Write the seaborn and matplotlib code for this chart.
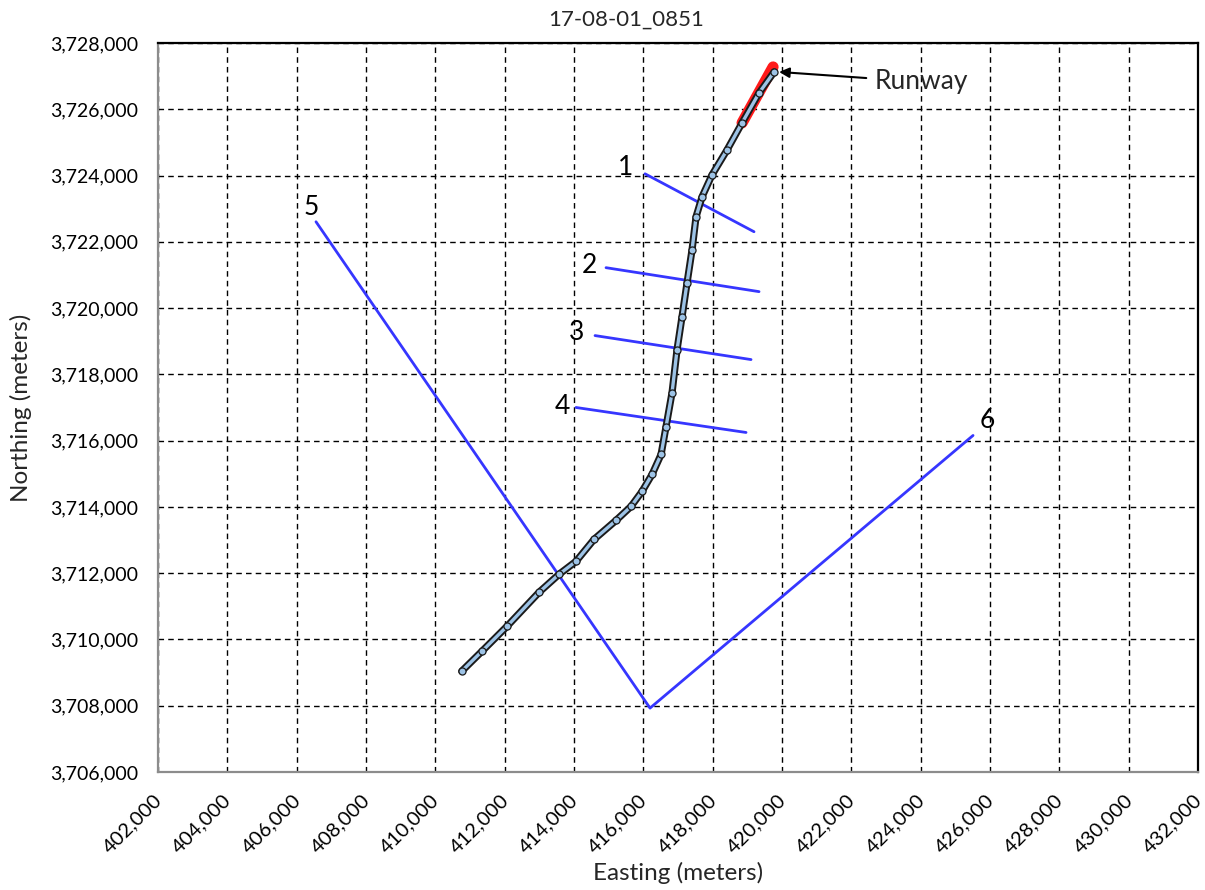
import matplotlib
matplotlib.use("Agg")
import matplotlib.pyplot as plt
import matplotlib.patheffects as pe
import matplotlib.transforms as mtransforms
from matplotlib.ticker import FuncFormatter, MultipleLocator
import seaborn as sns
import pandas as pd

# ---- data ----
track_easting = [410762, 411347, 412069, 412992, 413569, 414059, 414579, 415213,
                 415646, 415963, 416252, 416512, 416656, 416829, 416973, 417117,
                 417262, 417406, 417521, 417694, 417983, 418416, 418848, 419339,
                 419772]
track_northing = [3709042, 3709645, 3710398, 3711423, 3711966, 3712357, 3713020,
                  3713593, 3714015, 3714467, 3714980, 3715582, 3716426, 3717451,
                  3718747, 3719742, 3720766, 3721761, 3722756, 3723358, 3724022,
                  3724775, 3725589, 3726493, 3727126]

runway_easting = [418848, 419743]
runway_northing = [3725589, 3727277]

transect_names = ["1", "2", "3", "4"]
transect_easting = [[416049, 419193], [414924, 419338], [414607, 419107], [414059, 418963]]
transect_northing = [[3724052, 3722304], [3721219, 3720496], [3719170, 3718446], [3717000, 3716246]]

vline_easting = [406558, 416193, 425511]
vline_northing = [3722605, 3707928, 3716156]

label_text = ["1", "2", "3", "4", "5", "6"]
label_easting = [415473, 414435, 414088, 413655, 406414, 425917]
label_northing = [3724233, 3721279, 3719259, 3717029, 3723027, 3716607]

title = "17-08-01_0851"
xlabel = "Easting (meters)"
ylabel = "Northing (meters)"

# ---- style ----
sns.set_theme(style="white")
plt.rcParams["font.family"] = ["Lato", "DejaVu Sans"]

fig = plt.figure(figsize=(12.05, 8.9), dpi=100)
ax = fig.add_axes([0.1311, 0.1326, 0.9942 - 0.1311, 0.9517 - 0.1326])

blue = "#3636ff"

for e, n in zip(transect_easting, transect_northing):
    sns.lineplot(x=e, y=n, sort=False, estimator=None, color=blue, lw=2.0, ax=ax)
sns.lineplot(x=vline_easting, y=vline_northing, sort=False, estimator=None,
             color=blue, lw=2.0, ax=ax)

# runway highlight
sns.lineplot(x=runway_easting, y=runway_northing, sort=False, estimator=None,
             color="#ff1a1a", lw=8, ax=ax, solid_capstyle="round")

# dense track: dark band with light-blue core
track_df = pd.DataFrame({"E": track_easting, "N": track_northing})
sns.lineplot(data=track_df, x="E", y="N", sort=False, estimator=None,
             color="#9dc3e6", lw=2.4, ax=ax, solid_capstyle="round",
             path_effects=[pe.Stroke(linewidth=5.2, foreground="#1a1a1a"), pe.Normal()])
sns.scatterplot(data=track_df, x="E", y="N", s=26, color="#9dc3e6",
                edgecolor="#1a1a1a", linewidth=0.9, ax=ax, zorder=5)

for t, e, n in zip(label_text, label_easting, label_northing):
    ax.text(e, n, t, fontsize=19, ha="center", va="center", color="black")

ax.annotate("Runway", xy=(419916, 3727126), xytext=(422685, 3726825),
            fontsize=19, ha="left", va="center",
            arrowprops=dict(arrowstyle="-|>", color="black", lw=1.5,
                            shrinkA=4, shrinkB=0, mutation_scale=15))

ax.set_xlim(402000, 432000)
ax.set_ylim(3706000, 3728000)
ax.xaxis.set_major_locator(MultipleLocator(2000))
ax.yaxis.set_major_locator(MultipleLocator(2000))
fmt = FuncFormatter(lambda v, p: f"{int(round(v)):,}")
ax.xaxis.set_major_formatter(fmt)
ax.yaxis.set_major_formatter(fmt)

ax.grid(True, color="black", linestyle=(0, (4, 3)), lw=1.0)
ax.tick_params(axis="both", length=0, labelsize=14, colors="black")
ax.tick_params(axis="x", pad=14)
ax.tick_params(axis="y", pad=14)
shift = mtransforms.ScaledTranslation(-5 / 100, 0, fig.dpi_scale_trans)
for lab in ax.get_xticklabels():
    lab.set_rotation(45)
    lab.set_ha("right")
    lab.set_rotation_mode("anchor")
    lab.set_fontsize(14.5)
    lab.set_transform(lab.get_transform() + shift)

for side in ["top", "right"]:
    ax.spines[side].set_color("black")
    ax.spines[side].set_linewidth(1.6)
for side in ["left", "bottom"]:
    ax.spines[side].set_color("#8c8c8c")
    ax.spines[side].set_linewidth(1.6)

fig.text(0.5195, 0.9775, title, fontsize=16, ha="center", va="center")
ax.set_xlabel(xlabel, fontsize=17.5, labelpad=4)
ax.set_ylabel(ylabel, fontsize=17.5, labelpad=13)

fig.savefig("out.png", dpi=100)
